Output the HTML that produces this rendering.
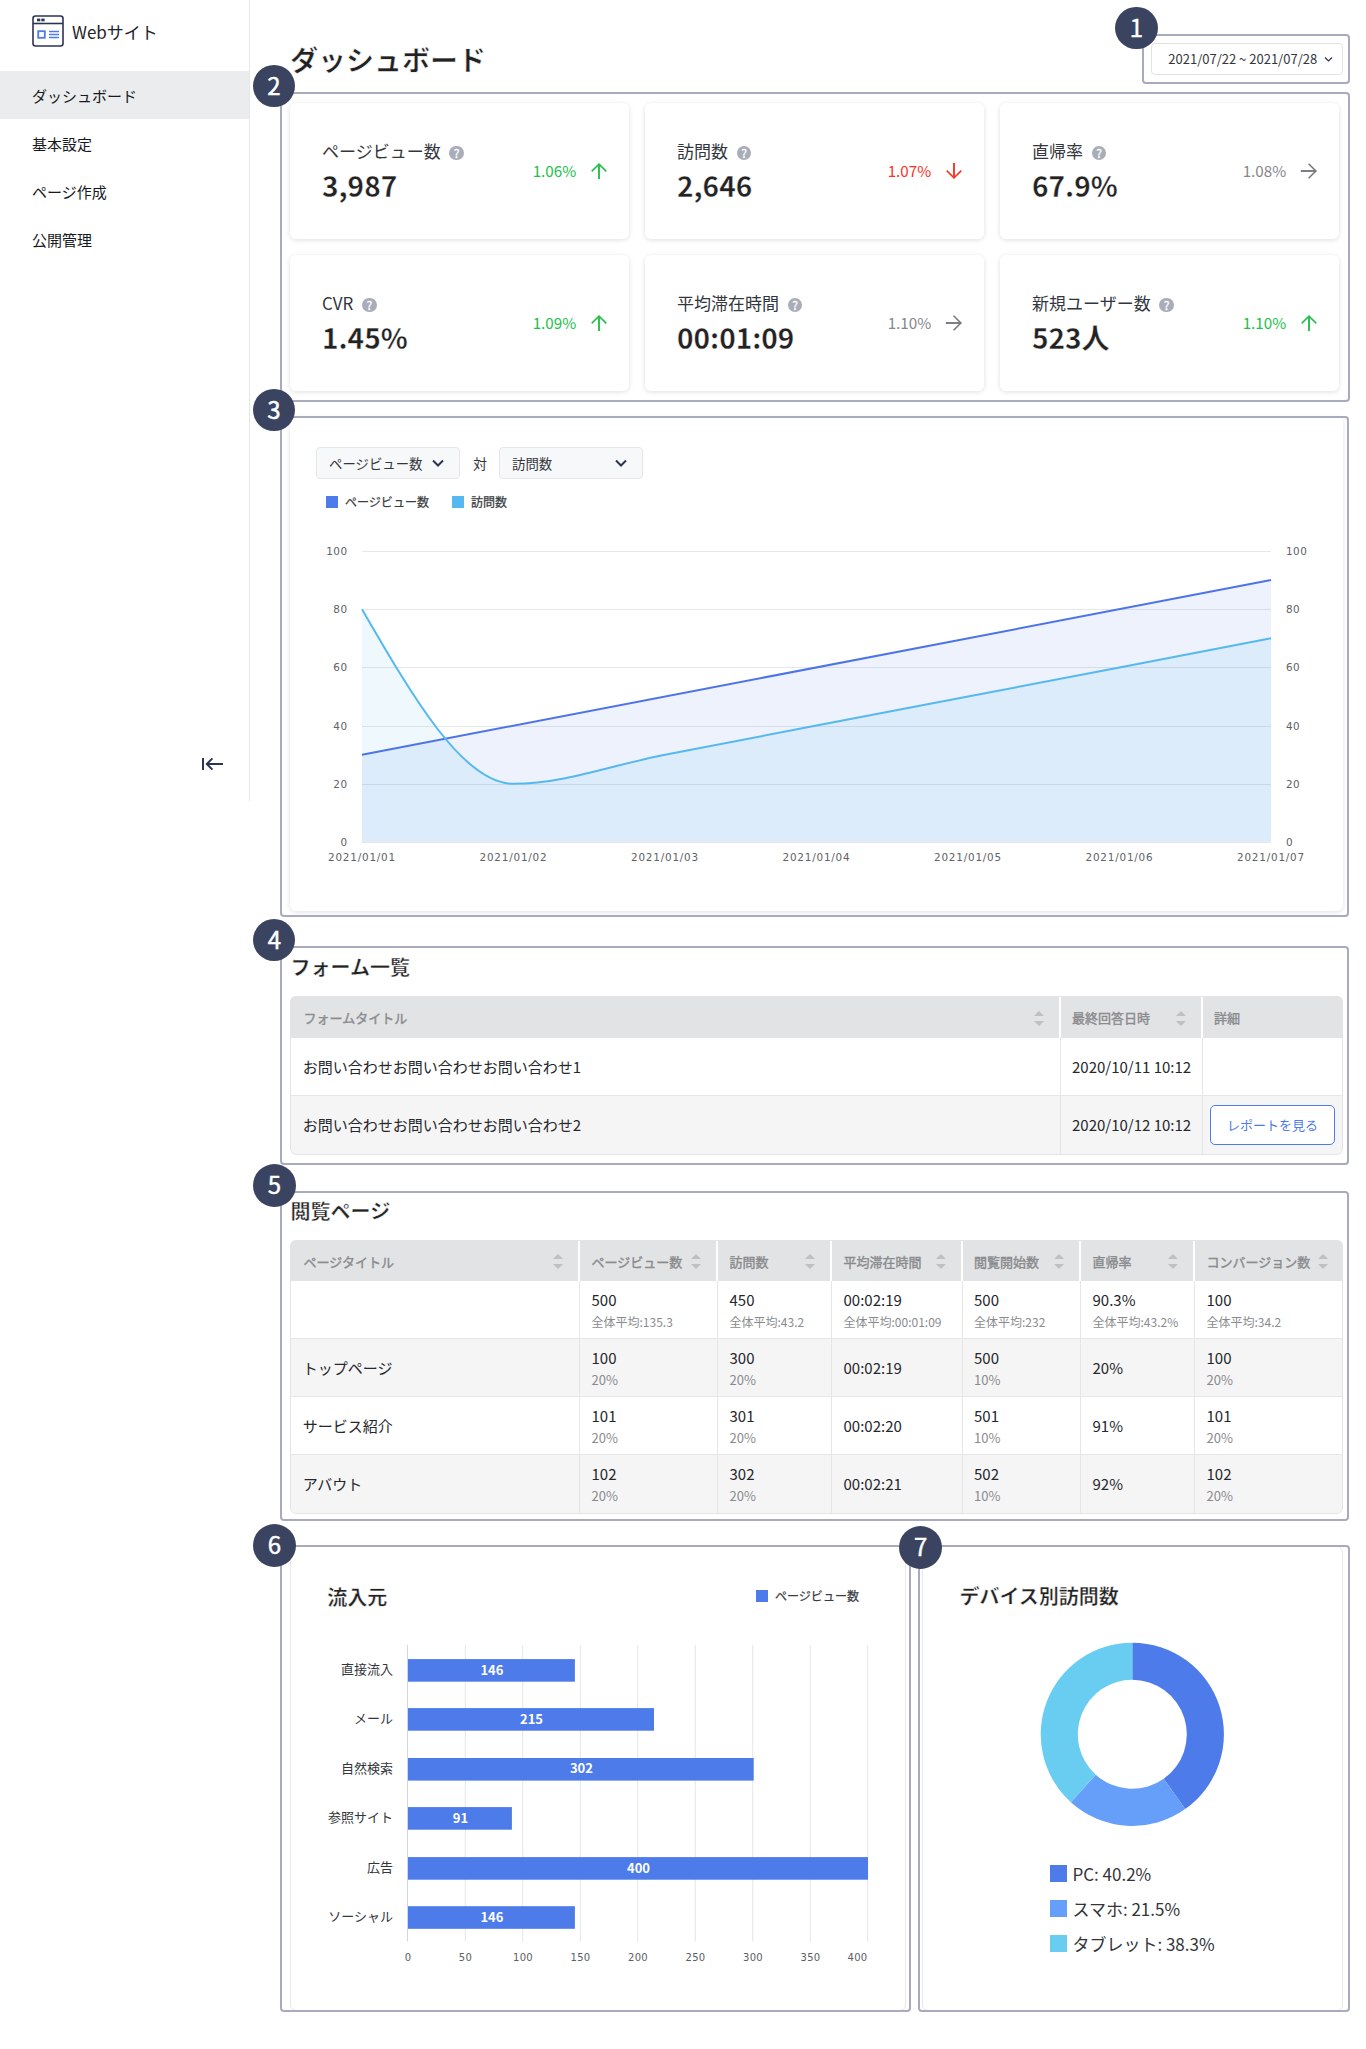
<!DOCTYPE html>
<html lang="ja">
<head>
<meta charset="utf-8">
<title>ダッシュボード</title>
<style>
*{box-sizing:border-box;margin:0;padding:0}
html,body{width:1366px;height:2049px;background:#fff;overflow:hidden}
body{position:relative;font-family:"Noto Sans CJK JP","Liberation Sans",sans-serif;color:#222529;font-size:14px;line-height:1.5}
.abs{position:absolute}
/* sidebar */
#side{position:absolute;left:0;top:0;width:250px;height:801px;border-right:1px solid #e6e7e9;background:#fff}
#logo{position:absolute;left:32px;top:15px;width:32px;height:32px}
#brand{position:absolute;left:72px;top:18px;font-size:17px;line-height:28px;color:#1f2329;white-space:nowrap}
.nav{position:absolute;left:0;width:249px;height:48px;line-height:49.5px;padding-left:32px;font-size:15px;color:#17191d;white-space:nowrap}
.nav.on{background:#ebecee}
#collapse{position:absolute;left:201px;top:757px;width:23px;height:14px}
/* annotations */
.ol{position:absolute;border:2px solid #a8abbd;border-radius:4px;pointer-events:none}
.bd{position:absolute;width:42.8px;height:42.8px;border-radius:50%;background:#3a4460;color:#fff;font-size:24px;line-height:40.4px;text-align:center;font-weight:400;-webkit-text-stroke:.45px #fff}
h1{position:absolute;left:290px;top:37.3px;font-size:28px;line-height:44px;font-weight:700;-webkit-text-stroke:.55px #fff;color:#222;white-space:nowrap;letter-spacing:0}
#date{position:absolute;left:1151.3px;top:43px;width:191.3px;height:32px;border:1px solid #e2e2e4;border-radius:4px;font-size:13px;line-height:30px;color:#33373d;padding-left:16px;white-space:nowrap;background:#fff}
.card{position:absolute;background:#fff;border-radius:6px;box-shadow:0 1px 5px rgba(0,0,0,.13)}
.kpi{width:339.2px;height:136px}
.kpi .lb{position:absolute;left:32px;top:35px;font-size:17px;line-height:26px;color:#33373d;white-space:nowrap}
.kpi .q{display:inline-block;vertical-align:middle;width:14.4px;height:14.4px;border-radius:50%;background:#a9adb9;margin-left:8.8px;position:relative;top:-.6px;color:#fff;font-size:12px;line-height:14.2px;font-weight:400;-webkit-text-stroke:.3px #fff;text-align:center}
.kpi .vl{position:absolute;left:32px;top:60px;font-size:28px;line-height:44px;font-weight:700;-webkit-text-stroke:.36px #fff;letter-spacing:0;color:#222;white-space:nowrap}
.kpi .pc{position:absolute;right:53px;top:55px;font-size:15.2px;line-height:24px;white-space:nowrap}
.kpi svg.ar{position:absolute;right:21.2px;top:59.4px;width:18px;height:18px}
.g{color:#22c04b}.r{color:#fb3226}.n{color:#85878c}
.dv{font-family:"DejaVu Sans","Liberation Sans",sans-serif}
.cj{font-family:"Noto Sans CJK JP","Liberation Sans",sans-serif}
.sel{position:absolute;width:144px;height:32px;background:#f7f8fa;border:1px solid #e4e6e9;border-radius:4px;font-size:13.4px;line-height:30px;padding-left:12px;color:#33363b;white-space:nowrap}
.sel svg{position:absolute;right:15px;top:11px}
.h2{position:absolute;font-size:20px;line-height:30px;font-weight:700;-webkit-text-stroke:.4px #fff;color:#222;white-space:nowrap}
.tbl{position:absolute;border-radius:6px;overflow:hidden;background:#fff}
.tbl:after{content:"";position:absolute;left:0;top:0;right:0;bottom:0;border:1px solid #e3e4e6;border-radius:6px}
.tr{position:absolute;left:0;width:100%;border-top:1px solid #e6e6e7;background:#fff}
.tr.th{background:#e2e3e5;border-top:0;color:#8b8e94;font-size:13px}
.tr.alt{background:#f5f5f5}
.tr.th+.tr{border-top:0}
.td{position:absolute;top:0;height:100%;padding-left:12.8px;display:flex;align-items:center;border-right:1px solid #e6e6e7;font-size:15px;color:#25272b;white-space:nowrap;padding-top:1.6px}
.th .td{font-size:13px;color:#8a8b8e;border-right:2px solid #fff;padding-bottom:0;padding-left:13.6px}
.td.nb{border-right:0}
.t4 .td{padding-top:0}
.tr.th .td{padding-top:2px;-webkit-text-stroke:.4px #8a8b8e}
.so{position:absolute;top:50%;width:10px;height:18px;margin-top:-9px}
.so:before,.so:after{content:"";position:absolute;left:0;border:5px solid transparent}
.so:before{top:-2px;border-bottom:5px solid #bfc0c2}
.so:after{top:13px;border-top:5px solid #bfc0c2}
.btn{display:block;position:absolute;left:7.5px;top:9.3px;width:124.8px;height:39.4px;border:1px solid #4d7bea;border-radius:5px;background:#fff;color:#4d7bea;font-size:13px;line-height:37px;text-align:center}
.two{display:block;line-height:1}
.two b{display:block;font-weight:400;font-size:15px;line-height:22px;color:#25272b}
.two em{display:block;font-style:normal;font-size:13px;line-height:21.6px;color:#8a8b8e}
.two em.s11{font-size:12px}
.h3{position:absolute;font-size:18px;line-height:28px;font-weight:700;color:#222529;white-space:nowrap}
.lg{font-size:17px;line-height:24px;color:#333538;white-space:nowrap}
.card2{position:absolute;background:#fff;border:1px solid #e8e8e8;border-radius:6px}
</style>
</head>
<body>
<!-- SIDEBAR -->
<div id="side">
<svg id="logo" viewBox="0 0 32 32" fill="none"><rect x="1" y="1" width="30" height="30" rx="2.5" stroke="#2c3454" stroke-width="1.6"/><path d="M1 8.5h30" stroke="#2c3454" stroke-width="1.6"/><rect x="5" y="3.6" width="3.3" height="2.7" fill="#2c3454"/><rect x="9.3" y="3.6" width="3.3" height="2.7" fill="#2c3454"/><rect x="6.2" y="16.2" width="6.6" height="6.6" stroke="#4d7bea" stroke-width="1.8"/><path d="M17 16.5h10M17 19.5h10M17 22.5h10" stroke="#4d7bea" stroke-width="1.5"/></svg>
<div id="brand">Webサイト</div>
<div class="nav on" style="top:71px">ダッシュボード</div>
<div class="nav" style="top:119px">基本設定</div>
<div class="nav" style="top:167px">ページ作成</div>
<div class="nav" style="top:215px">公開管理</div>
<svg id="collapse" viewBox="0 0 23 14" fill="none" stroke="#2c3454" stroke-width="2"><path d="M2 1v12M22 7H6.5M11.4 1.4L5.8 7l5.6 5.6"/></svg>
</div>

<!-- HEADER -->
<h1>ダッシュボード</h1>
<div id="date">2021/07/22 ~ 2021/07/28<svg class="abs" style="right:9px;top:12px" width="9" height="7" viewBox="0 0 9 7" fill="none" stroke="#2c3454" stroke-width="1.2"><path d="M1 1.5l3.5 3.5L8 1.5"/></svg></div>

<!-- KPI CARDS -->
<div class="card kpi" style="left:290px;top:103px"><div class="lb">ページビュー数<span class="q">?</span></div><div class="vl">3,987</div><div class="pc g">1.06%</div><svg class="ar" viewBox="0 0 18 18" fill="none" stroke="#22c04b" stroke-width="1.5"><path d="M9 16.9V2.6" stroke-width="1.9"/><path d="M1.7 9.4L9 2.1l7.3 7.3"/></svg></div>
<div class="card kpi" style="left:645px;top:103px"><div class="lb">訪問数<span class="q">?</span></div><div class="vl">2,646</div><div class="pc r">1.07%</div><svg class="ar" viewBox="0 0 18 18" fill="none" stroke="#fb3226" stroke-width="1.5"><path d="M9 1.1v14.3" stroke-width="1.9"/><path d="M1.7 8.6L9 15.9l7.3-7.3"/></svg></div>
<div class="card kpi" style="left:1000px;top:103px"><div class="lb">直帰率<span class="q">?</span></div><div class="vl">67.9%</div><div class="pc n">1.08%</div><svg class="ar" viewBox="0 0 18 18" fill="none" stroke="#77797e" stroke-width="1.6"><path d="M.8 9h14.6" stroke-width="1.9"/><path d="M8.6 1.7L15.9 9l-7.3 7.3"/></svg></div>
<div class="card kpi" style="left:290px;top:255px"><div class="lb">CVR<span class="q">?</span></div><div class="vl">1.45%</div><div class="pc g">1.09%</div><svg class="ar" viewBox="0 0 18 18" fill="none" stroke="#22c04b" stroke-width="1.5"><path d="M9 16.9V2.6" stroke-width="1.9"/><path d="M1.7 9.4L9 2.1l7.3 7.3"/></svg></div>
<div class="card kpi" style="left:645px;top:255px"><div class="lb">平均滞在時間<span class="q">?</span></div><div class="vl">00:01:09</div><div class="pc n">1.10%</div><svg class="ar" viewBox="0 0 18 18" fill="none" stroke="#77797e" stroke-width="1.6"><path d="M.8 9h14.6" stroke-width="1.9"/><path d="M8.6 1.7L15.9 9l-7.3 7.3"/></svg></div>
<div class="card kpi" style="left:1000px;top:255px"><div class="lb">新規ユーザー数<span class="q">?</span></div><div class="vl">523人</div><div class="pc g">1.10%</div><svg class="ar" viewBox="0 0 18 18" fill="none" stroke="#22c04b" stroke-width="1.5"><path d="M9 16.9V2.6" stroke-width="1.9"/><path d="M1.7 9.4L9 2.1l7.3 7.3"/></svg></div>

<!-- SECTION 3: LINE CHART -->
<div class="card" style="left:290px;top:416.6px;width:1053px;height:494.9px"></div>
<div class="sel" style="left:316px;top:447px">ページビュー数<svg width="12" height="8" viewBox="0 0 12 8" fill="none" stroke="#2c3454" stroke-width="2"><path d="M1 1.5l5 5 5-5"/></svg></div>
<div class="abs" style="left:473px;top:453px;font-size:14px;line-height:20px;color:#33373d">対</div>
<div class="sel" style="left:499px;top:447px">訪問数<svg width="12" height="8" viewBox="0 0 12 8" fill="none" stroke="#2c3454" stroke-width="2"><path d="M1 1.5l5 5 5-5"/></svg></div>
<svg class="abs dv" style="left:290px;top:480px" width="1054" height="400" viewBox="290 480 1054 400" font-size="10.4" fill="#606266"><rect x="326" y="496" width="12" height="12" fill="#4d7bea"/><text x="345" y="506.5" class="cj" font-size="12" stroke="#3a3d42" stroke-width=".25" fill="#3a3d42" textLength="84" lengthAdjust="spacingAndGlyphs">ページビュー数</text><rect x="452" y="496" width="12" height="12" fill="#55b9f0"/><text x="471" y="506.5" class="cj" font-size="12" stroke="#3a3d42" stroke-width=".25" fill="#3a3d42" textLength="36" lengthAdjust="spacingAndGlyphs">訪問数</text><path d="M362 842.5H1271M362 784.5H1271M362 726.5H1271M362 667.5H1271M362 609.5H1271M362 551.5H1271" stroke="#e6e7e9" stroke-width="1" fill="none"/><path d="M362 754.7L1271 580.1L1271 842L362 842Z" fill="#4d7bea" fill-opacity=".1"/><path d="M362.0 609.2C412.5 696.5 463.0 783.8 513.5 783.8C564.0 783.8 614.5 764.4 665.0 754.7C715.5 745.0 766.0 735.3 816.5 725.6C867.0 715.9 917.5 706.2 968.0 696.5C1018.5 686.8 1069.0 677.1 1119.5 667.4C1170.0 657.7 1220.5 648.0 1271.0 638.3L1271 842L362 842Z" fill="#55b9f0" fill-opacity=".1"/><path d="M362 754.7L1271 580.1" stroke="#4d74e6" stroke-width="2" fill="none"/><path d="M362.0 609.2C412.5 696.5 463.0 783.8 513.5 783.8C564.0 783.8 614.5 764.4 665.0 754.7C715.5 745.0 766.0 735.3 816.5 725.6C867.0 715.9 917.5 706.2 968.0 696.5C1018.5 686.8 1069.0 677.1 1119.5 667.4C1170.0 657.7 1220.5 648.0 1271.0 638.3" stroke="#55b9f0" stroke-width="2" fill="none"/><text x="347.5" y="846.0" text-anchor="end" letter-spacing=".5">0</text><text x="1286" y="846.0" letter-spacing=".5">0</text><text x="347.5" y="787.8" text-anchor="end" letter-spacing=".5">20</text><text x="1286" y="787.8" letter-spacing=".5">20</text><text x="347.5" y="729.6" text-anchor="end" letter-spacing=".5">40</text><text x="1286" y="729.6" letter-spacing=".5">40</text><text x="347.5" y="671.4" text-anchor="end" letter-spacing=".5">60</text><text x="1286" y="671.4" letter-spacing=".5">60</text><text x="347.5" y="613.2" text-anchor="end" letter-spacing=".5">80</text><text x="1286" y="613.2" letter-spacing=".5">80</text><text x="347.5" y="555.0" text-anchor="end" letter-spacing=".5">100</text><text x="1286" y="555.0" letter-spacing=".5">100</text><text x="362.0" y="861" text-anchor="middle" letter-spacing=".8">2021/01/01</text><text x="513.5" y="861" text-anchor="middle" letter-spacing=".8">2021/01/02</text><text x="665.0" y="861" text-anchor="middle" letter-spacing=".8">2021/01/03</text><text x="816.5" y="861" text-anchor="middle" letter-spacing=".8">2021/01/04</text><text x="968.0" y="861" text-anchor="middle" letter-spacing=".8">2021/01/05</text><text x="1119.5" y="861" text-anchor="middle" letter-spacing=".8">2021/01/06</text><text x="1271.0" y="861" text-anchor="middle" letter-spacing=".8">2021/01/07</text></svg>
<!-- SECTION 4: FORM LIST -->
<div class="h2" style="left:290.5px;top:952px">フォーム一覧</div>
<div class="tbl t4" style="left:290px;top:996px;width:1053px;height:158.7px">
<div class="tr th" style="top:0;height:42px"><div class="td" style="left:0;width:770.5px">フォームタイトル<i class="so" style="right:15px"></i></div><div class="td" style="left:770.5px;width:142px;padding-left:11.5px">最終回答日時<i class="so" style="right:15px"></i></div><div class="td nb" style="left:912.5px;width:140.5px;padding-left:11.5px">詳細</div></div>
<div class="tr" style="top:42px;height:58px"><div class="td" style="left:0;width:770.5px">お問い合わせお問い合わせお問い合わせ1</div><div class="td" style="left:770.5px;width:142px;padding-left:11.5px">2020/10/11 10:12</div><div class="td nb" style="left:912.5px;width:140.5px"></div></div>
<div class="tr alt" style="top:98.9px;height:59.8px"><div class="td" style="left:0;width:770.5px">お問い合わせお問い合わせお問い合わせ2</div><div class="td" style="left:770.5px;width:142px;padding-left:11.5px">2020/10/12 10:12</div><div class="td nb" style="left:912.5px;width:140.5px"><span class="btn">レポートを見る</span></div></div>
</div>

<!-- SECTION 5: PAGES TABLE -->
<div class="h2" style="left:290.6px;top:1195.8px">閲覧ページ</div>
<div class="tbl" style="left:290px;top:1240px;width:1053px;height:273.7px">
<div class="tr th" style="top:0;height:40.7px"><div class="td" style="left:0px;width:290px">ページタイトル<i class="so" style="right:15px"></i></div><div class="td" style="left:290px;width:138px;padding-left:11.5px">ページビュー数<i class="so" style="right:15px"></i></div><div class="td" style="left:428px;width:114px;padding-left:11.5px">訪問数<i class="so" style="right:15px"></i></div><div class="td" style="left:542px;width:130.5px;padding-left:11.5px">平均滞在時間<i class="so" style="right:15px"></i></div><div class="td" style="left:672.5px;width:118.5px;padding-left:11.5px">閲覧開始数<i class="so" style="right:15px"></i></div><div class="td" style="left:791px;width:114px;padding-left:11.5px">直帰率<i class="so" style="right:15px"></i></div><div class="td nb" style="left:905px;width:148px;padding-left:11.5px">コンバージョン数<i class="so" style="right:15px"></i></div></div>
<div class="tr" style="top:40.7px;height:58px"><div class="td" style="left:0px;width:290px"></div><div class="td" style="left:290px;width:138px;padding-left:11.5px"><div class="two"><b>500</b><em class="sub s11">全体平均:135.3</em></div></div><div class="td" style="left:428px;width:114px;padding-left:11.5px"><div class="two"><b>450</b><em class="sub s11">全体平均:43.2</em></div></div><div class="td" style="left:542px;width:130.5px;padding-left:11.5px"><div class="two"><b>00:02:19</b><em class="sub s11">全体平均:00:01:09</em></div></div><div class="td" style="left:672.5px;width:118.5px;padding-left:11.5px"><div class="two"><b>500</b><em class="sub s11">全体平均:232</em></div></div><div class="td" style="left:791px;width:114px;padding-left:11.5px"><div class="two"><b>90.3%</b><em class="sub s11">全体平均:43.2%</em></div></div><div class="td nb" style="left:905px;width:148px;padding-left:11.5px"><div class="two"><b>100</b><em class="sub s11">全体平均:34.2</em></div></div></div>
<div class="tr alt" style="top:97.6px;height:59px"><div class="td" style="left:0px;width:290px">トップページ</div><div class="td" style="left:290px;width:138px;padding-left:11.5px"><div class="two"><b>100</b><em class="sub">20%</em></div></div><div class="td" style="left:428px;width:114px;padding-left:11.5px"><div class="two"><b>300</b><em class="sub">20%</em></div></div><div class="td" style="left:542px;width:130.5px;padding-left:11.5px">00:02:19</div><div class="td" style="left:672.5px;width:118.5px;padding-left:11.5px"><div class="two"><b>500</b><em class="sub">10%</em></div></div><div class="td" style="left:791px;width:114px;padding-left:11.5px">20%</div><div class="td nb" style="left:905px;width:148px;padding-left:11.5px"><div class="two"><b>100</b><em class="sub">20%</em></div></div></div>
<div class="tr" style="top:155.6px;height:59px"><div class="td" style="left:0px;width:290px">サービス紹介</div><div class="td" style="left:290px;width:138px;padding-left:11.5px"><div class="two"><b>101</b><em class="sub">20%</em></div></div><div class="td" style="left:428px;width:114px;padding-left:11.5px"><div class="two"><b>301</b><em class="sub">20%</em></div></div><div class="td" style="left:542px;width:130.5px;padding-left:11.5px">00:02:20</div><div class="td" style="left:672.5px;width:118.5px;padding-left:11.5px"><div class="two"><b>501</b><em class="sub">10%</em></div></div><div class="td" style="left:791px;width:114px;padding-left:11.5px">91%</div><div class="td nb" style="left:905px;width:148px;padding-left:11.5px"><div class="two"><b>101</b><em class="sub">20%</em></div></div></div>
<div class="tr alt" style="top:213.6px;height:59px"><div class="td" style="left:0px;width:290px">アバウト</div><div class="td" style="left:290px;width:138px;padding-left:11.5px"><div class="two"><b>102</b><em class="sub">20%</em></div></div><div class="td" style="left:428px;width:114px;padding-left:11.5px"><div class="two"><b>302</b><em class="sub">20%</em></div></div><div class="td" style="left:542px;width:130.5px;padding-left:11.5px">00:02:21</div><div class="td" style="left:672.5px;width:118.5px;padding-left:11.5px"><div class="two"><b>502</b><em class="sub">10%</em></div></div><div class="td" style="left:791px;width:114px;padding-left:11.5px">92%</div><div class="td nb" style="left:905px;width:148px;padding-left:11.5px"><div class="two"><b>102</b><em class="sub">20%</em></div></div></div>
</div>
<!-- SECTION 6: BAR CHART -->
<div class="card2" style="left:290px;top:1546px;width:616px;height:465px"></div>
<div class="h2" style="left:327.3px;top:1581.5px">流入元</div>
<svg class="abs dv" style="left:290px;top:1570px" width="615" height="420" viewBox="290 1570 615 420" font-size="10" fill="#5b5e64"><rect x="756" y="1590" width="12" height="12" fill="#4d7bea"/><text class="cj" x="775" y="1600.5" font-size="12" stroke="#3a3d42" stroke-width=".25" fill="#3a3d42" textLength="84" lengthAdjust="spacingAndGlyphs">ページビュー数</text><path d="M465.25 1645V1941.5M522.75 1645V1941.5M580.25 1645V1941.5M637.75 1645V1941.5M695.25 1645V1941.5M752.75 1645V1941.5M810.25 1645V1941.5M867.75 1645V1941.5" stroke="#e4e5e7" stroke-width="1" fill="none"/><path d="M407.5 1645V1941.5" stroke="#cdd6f2" stroke-width="1" fill="none"/><rect x="408" y="1659.1" width="166.9" height="22.6" fill="#4d7bea"/><text class="cj" x="491.9" y="1674.5" font-size="13" font-weight="700" fill="#fff" text-anchor="middle">146</text><text class="cj" x="393" y="1674.0" font-size="13" fill="#33363b" text-anchor="end">直接流入</text><rect x="408" y="1708.1" width="246.0" height="22.6" fill="#4d7bea"/><text class="cj" x="531.5" y="1723.5" font-size="13" font-weight="700" fill="#fff" text-anchor="middle">215</text><text class="cj" x="393" y="1723.0" font-size="13" fill="#33363b" text-anchor="end">メール</text><rect x="408" y="1758.0" width="345.7" height="22.6" fill="#4d7bea"/><text class="cj" x="581.4" y="1773.4" font-size="13" font-weight="700" fill="#fff" text-anchor="middle">302</text><text class="cj" x="393" y="1772.9" font-size="13" fill="#33363b" text-anchor="end">自然検索</text><rect x="408" y="1807.1" width="103.9" height="22.6" fill="#4d7bea"/><text class="cj" x="460.4" y="1822.5" font-size="13" font-weight="700" fill="#fff" text-anchor="middle">91</text><text class="cj" x="393" y="1822.0" font-size="13" fill="#33363b" text-anchor="end">参照サイト</text><rect x="408" y="1857.1" width="460.0" height="22.6" fill="#4d7bea"/><text class="cj" x="638.5" y="1872.5" font-size="13" font-weight="700" fill="#fff" text-anchor="middle">400</text><text class="cj" x="393" y="1872.0" font-size="13" fill="#33363b" text-anchor="end">広告</text><rect x="408" y="1906.2" width="166.9" height="22.6" fill="#4d7bea"/><text class="cj" x="491.9" y="1921.6" font-size="13" font-weight="700" fill="#fff" text-anchor="middle">146</text><text class="cj" x="393" y="1921.1" font-size="13" fill="#33363b" text-anchor="end">ソーシャル</text><text x="408.0" y="1961" text-anchor="middle" letter-spacing=".3">0</text><text x="465.5" y="1961" text-anchor="middle" letter-spacing=".3">50</text><text x="523.0" y="1961" text-anchor="middle" letter-spacing=".3">100</text><text x="580.5" y="1961" text-anchor="middle" letter-spacing=".3">150</text><text x="638.0" y="1961" text-anchor="middle" letter-spacing=".3">200</text><text x="695.5" y="1961" text-anchor="middle" letter-spacing=".3">250</text><text x="753.0" y="1961" text-anchor="middle" letter-spacing=".3">300</text><text x="810.5" y="1961" text-anchor="middle" letter-spacing=".3">350</text><text x="867.5" y="1961" text-anchor="end" letter-spacing=".3">400</text></svg>
<!-- SECTION 7: DONUT -->
<div class="card2" style="left:922px;top:1546px;width:421px;height:465px"></div>
<div class="h2" style="left:959.4px;top:1581px">デバイス別訪問数</div>
<svg class="abs" style="left:1030px;top:1630px" width="210" height="210" viewBox="1030 1630 210 210"><path d="M1132.30 1642.70A91.6 91.6 0 0 1 1185.21 1809.08L1163.78 1778.79A54.5 54.5 0 0 0 1132.30 1679.80Z" fill="#4d7bea"/><path d="M1185.21 1809.08A91.6 91.6 0 0 1 1070.87 1802.24L1095.75 1774.72A54.5 54.5 0 0 0 1163.78 1778.79Z" fill="#669ff9"/><path d="M1070.87 1802.24A91.6 91.6 0 0 1 1132.30 1642.70L1132.30 1679.80A54.5 54.5 0 0 0 1095.75 1774.72Z" fill="#68cdf1"/></svg>
<div class="abs" style="left:1050.2px;top:1865px;width:16.8px;height:17.4px;background:#4d7bea"></div><div class="abs lg" style="left:1072.4px;top:1861.9px">PC: 40.2%</div>
<div class="abs" style="left:1050.2px;top:1899.8px;width:16.8px;height:17.4px;background:#669ff9"></div><div class="abs lg" style="left:1072.4px;top:1896.7px">スマホ: 21.5%</div>
<div class="abs" style="left:1050.2px;top:1934.8px;width:16.8px;height:17.4px;background:#68cdf1"></div><div class="abs lg" style="left:1072.4px;top:1931.7px">タブレット: 38.3%</div>

<!-- ANNOTATION OUTLINES + BADGES -->
<div class="ol" style="left:1142px;top:34px;width:208px;height:50px"></div>
<div class="ol" style="left:280px;top:92px;width:1070px;height:310px"></div>
<div class="ol" style="left:280px;top:416px;width:1069px;height:501px"></div>
<div class="ol" style="left:280px;top:946px;width:1069px;height:219px"></div>
<div class="ol" style="left:280px;top:1191px;width:1069px;height:330px"></div>
<div class="ol" style="left:280px;top:1545px;width:631px;height:467px"></div>
<div class="ol" style="left:918px;top:1545px;width:432px;height:467px"></div>
<div class="bd" style="left:1115.15px;top:6.75px;width:42.5px;height:42.5px;line-height:40.1px">1</div>
<div class="bd" style="left:253.1px;top:65.1px;width:41.8px;height:41.8px;line-height:39.5px">2</div>
<div class="bd" style="left:253.1px;top:389.1px;width:41.8px;height:41.8px;line-height:39.5px">3</div>
<div class="bd" style="left:253.1px;top:919.1px;width:42.4px;height:42.4px;line-height:40px">4</div>
<div class="bd" style="left:252.9px;top:1164.05px;width:42.9px;height:42.9px;line-height:40.5px">5</div>
<div class="bd" style="left:253.05px;top:1524px;width:42.9px;height:42.9px;line-height:40.5px">6</div>
<div class="bd" style="left:899.1px;top:1525.8px;width:42.9px;height:42.9px;line-height:40.5px">7</div>
</body>
</html>
